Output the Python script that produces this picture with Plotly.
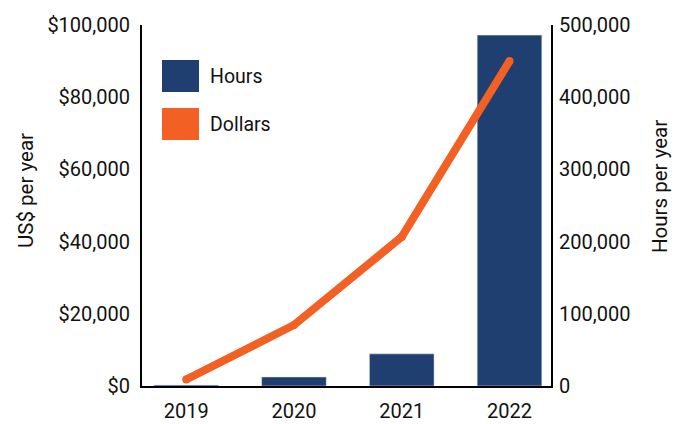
import plotly.graph_objects as go

years = ["2019", "2020", "2021", "2022"]
hours = [1400, 12500, 44500, 486000]
dollars = [1800, 16900, 41300, 90000]

bar_color = "#1F3F70"
line_color = "#F26024"
font_family = "Roboto, Arial, sans-serif"

# plot area in pixels
L, R, T, B = 142, 551, 25, 386
W, H = R - L, B - T


def px(x):
    return (x - L) / W


def py(y):
    return (B - y) / H


fig = go.Figure()

# Hours as bars on the right-hand axis
fig.add_trace(go.Bar(
    x=years, y=hours, name="Hours", marker_color=bar_color,
    width=0.6, yaxis="y", showlegend=False,
))

# Dollars as a thick line on the left-hand axis (drawn above the bars)
fig.add_trace(go.Scatter(
    x=years, y=dollars, name="Dollars", mode="lines+markers",
    line=dict(color=line_color, width=8),
    marker=dict(color=line_color, size=8),
    yaxis="y2", showlegend=False,
))

axis_common = dict(
    showgrid=False, zeroline=False, showline=True, linecolor="black",
    linewidth=2, ticks="", tickfont=dict(size=20, color="#111"),
    automargin=False,
)

fig.update_layout(
    width=683, height=424,
    margin=dict(l=L, r=683 - R, t=T, b=424 - B),
    paper_bgcolor="white", plot_bgcolor="white",
    font=dict(family=font_family, color="#111"),
    xaxis=dict(**axis_common, range=[-0.41, 3.385], type="category",
               ticklabelstandoff=6),
    yaxis=dict(
        **axis_common, side="right", range=[0, 500000],
        tickvals=[0, 100000, 200000, 300000, 400000, 500000],
        tickformat=",d", ticklabelstandoff=2,
    ),
    yaxis2=dict(
        **axis_common, side="left", overlaying="y", range=[0, 100000],
        tickvals=[0, 20000, 40000, 60000, 80000, 100000],
        tickformat="$,d", ticklabelstandoff=6,
    ),
)

# Axis titles
for text, x, y in [("US$ per year", 26, 191), ("Hours per year", 660, 187)]:
    fig.add_annotation(
        text=text, xref="paper", yref="paper", x=px(x), y=py(y),
        xanchor="center", yanchor="middle", textangle=-90, showarrow=False,
        font=dict(size=20.5, color="#111"),
    )

# Legend with large swatches
legend_items = [("Hours", bar_color, 60), ("Dollars", line_color, 108)]
for label, color, top in legend_items:
    fig.add_shape(
        type="rect", xref="paper", yref="paper",
        x0=px(162), x1=px(199), y0=py(top + 32), y1=py(top),
        fillcolor=color, line=dict(width=0),
    )
    fig.add_annotation(
        text=label, xref="paper", yref="paper",
        x=px(208), y=py(top + 16),
        xanchor="left", yanchor="middle", showarrow=False,
        font=dict(size=19.5, color="#111"),
    )

fig.write_html("out.html")
